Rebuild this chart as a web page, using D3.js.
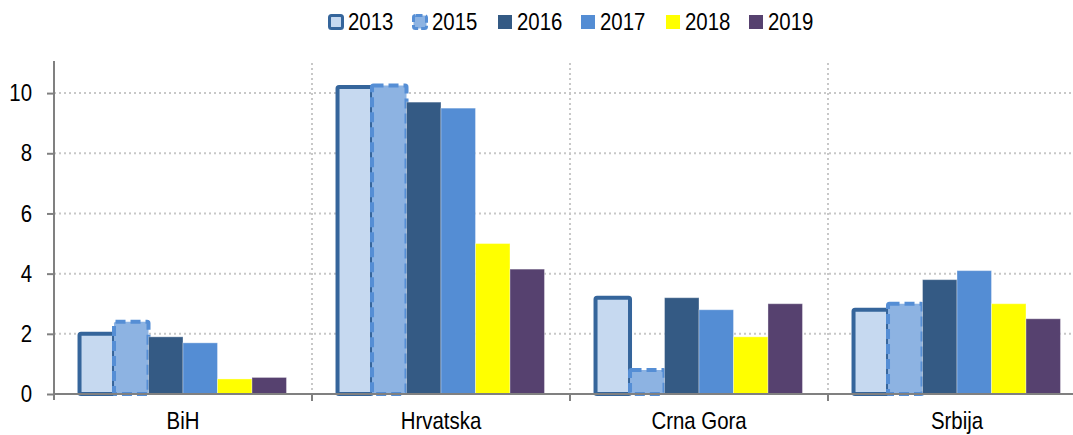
<!DOCTYPE html>
<html>
<head>
<meta charset="UTF-8">
<script src="https://d3js.org/d3.v7.min.js"></script>
<style>
  body { margin: 0; background: #fff; }
  svg { display: block; font-family: "Liberation Sans", Arial, sans-serif; }
</style>
</head>
<body>
<svg width="1073" height="435"></svg>
<script>
// data
const countries = ["BiH", "Hrvatska", "Crna Gora", "Srbija"];
const years = ["2013", "2015", "2016", "2017", "2018", "2019"];
const v2013 = [2.0, 10.2, 3.2, 2.8];
const v2015 = [2.4, 10.25, 0.8, 3.0];
const v2016 = [1.9, 9.7, 3.2, 3.8];
const v2017 = [1.7, 9.5, 2.8, 4.1];
const v2018 = [0.5, 5.0, 1.9, 3.0];
const v2019 = [0.55, 4.15, 3.0, 2.5];
const yTicks = [0, 2, 4, 6, 8, 10];

const series = [v2013, v2015, v2016, v2017, v2018, v2019];
const fills   = ["#c6d9f0", "#8db3e2", "#345a84", "#548dd4", "#ffff00", "#56416f"];
const strokes = ["#35659b", "#558ed5", null, null, null, null];

const svg = d3.select("svg");
const mLeft = 54, mRight = 1086, mTop = 63, mBottom = 394;
const narrow = 0.85; // the source font is condensed

const x0 = d3.scaleBand().domain(countries).range([mLeft, mRight]);
const x1 = d3.scaleBand().domain(years).range([0, x0.bandwidth()]).paddingOuter(0.74);
const y = d3.scaleLinear().domain([0, 11]).range([mBottom, mTop]);

// gridlines
const grid = svg.append("g").attr("stroke", "#c8c8c8").attr("stroke-width", 2).attr("stroke-dasharray", "2,3");
yTicks.filter(t => t > 0).forEach(t => {
  grid.append("line").attr("x1", mLeft).attr("x2", mRight).attr("y1", y(t)).attr("y2", y(t));
});
countries.slice(1).forEach(c => {
  grid.append("line").attr("x1", x0(c)).attr("x2", x0(c)).attr("y1", mTop).attr("y2", mBottom);
});

// bars
const groups = svg.append("g").selectAll("g")
  .data(countries).join("g")
  .attr("transform", c => `translate(${x0(c)},0)`);

years.forEach((yr, si) => {
  groups.append("rect")
    .attr("x", x1(yr))
    .attr("width", x1.bandwidth())
    .attr("y", (c, i) => y(series[si][i]))
    .attr("height", (c, i) => mBottom - y(series[si][i]))
    .attr("fill", fills[si])
    .attr("stroke", strokes[si] || "rgba(255,255,255,0.35)")
    .attr("stroke-width", strokes[si] ? 4 : 1)
    .attr("stroke-dasharray", si === 1 ? "10,5" : null)
    .attr("rx", strokes[si] ? 1.5 : 0);
});

// axes
const axisColor = "#808080";
const yAxis = svg.append("g")
  .attr("transform", `translate(${mLeft},0)`)
  .call(d3.axisLeft(y).tickValues(yTicks).tickSize(7).tickPadding(15));
yAxis.select(".domain").remove();
yAxis.append("line").attr("x1", 0).attr("x2", 0).attr("y1", mTop - 2).attr("y2", mBottom + 6)
  .attr("stroke", axisColor).attr("stroke-width", 2);
yAxis.selectAll(".tick line").attr("stroke", axisColor).attr("stroke-width", 2);
yAxis.attr("font-family", null).attr("font-size", 24);
yAxis.selectAll(".tick text").attr("fill", "#000")
  .attr("transform", function () { return `translate(${this.getAttribute("x")},0) scale(${narrow},1)`; })
  .attr("x", 0);

const xAxis = svg.append("g")
  .attr("transform", `translate(0,${mBottom})`)
  .call(d3.axisBottom(x0).tickSize(0).tickPadding(18));
xAxis.select(".domain").remove();
xAxis.append("line").attr("x1", mLeft).attr("x2", mRight).attr("stroke", axisColor).attr("stroke-width", 2);
countries.slice(1).forEach(c => {
  xAxis.append("line").attr("x1", x0(c)).attr("x2", x0(c)).attr("y1", 0).attr("y2", 7)
    .attr("stroke", axisColor).attr("stroke-width", 2);
});
xAxis.attr("font-family", null).attr("font-size", 24);
xAxis.selectAll(".tick text").attr("fill", "#000").attr("transform", `scale(${narrow},1)`);

// legend
const legendX = [328, 412, 497, 580, 665, 748];
const legend = svg.append("g");
years.forEach((yr, i) => {
  const g = legend.append("g").attr("transform", `translate(${legendX[i]},14)`);
  if (strokes[i]) {
    g.append("rect").attr("x", 1.5).attr("y", 1.5).attr("width", 13).attr("height", 13)
      .attr("rx", 2).attr("fill", fills[i]).attr("stroke", strokes[i]).attr("stroke-width", 3)
      .attr("stroke-dasharray", i === 1 ? "7,3" : null);
  } else {
    g.append("rect").attr("x", 1).attr("y", 1).attr("width", 14).attr("height", 14).attr("fill", fills[i]);
  }
  g.append("text").attr("transform", `translate(20,8) scale(${narrow},1)`).attr("dy", "0.35em")
    .attr("font-size", 24).attr("fill", "#000").text(yr);
});
</script>
</body>
</html>
